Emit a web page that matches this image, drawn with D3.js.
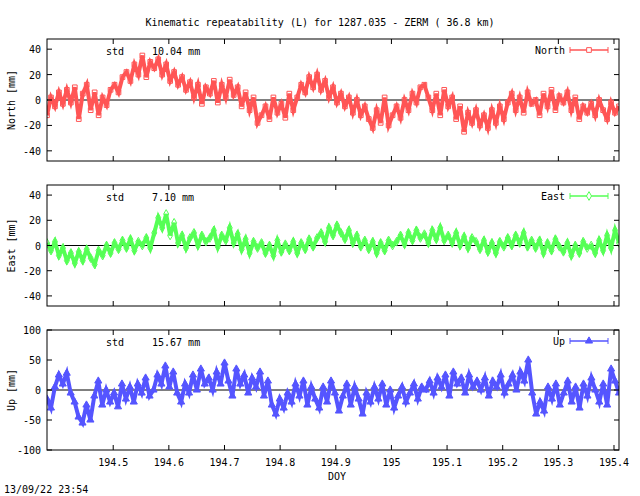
<!DOCTYPE html>
<html><head><meta charset="utf-8">
<script src="https://cdn.jsdelivr.net/npm/d3@7"></script>
<style>body{margin:0;background:#fff}text{font-family:"DejaVu Sans Mono",monospace;font-size:10px;fill:#000}</style>
</head><body>
<svg width="640" height="496"></svg>
<script>
var doyStart = 194.381, doyEnd = 195.409;
var xTicks = [194.5, 194.6, 194.7, 194.8, 194.9, 195, 195.1, 195.2, 195.3, 195.4];

var north = [-12,2,-5,6,-3,8,-2, 10,-15,5,12,-8,6,-12, 2,-4,8,12,6,18,
  22,15,28,20,35,18,30, 25,32,20,28,15,22,12, 18,8,14,2,12,-3,10,
  5,15,-2,12,2,16,4, 10,-5,6,-8,2,-18, -12,-5,-15,2,-10,-3,-14,
  5,-8,2,12,6,18,10, 20,8,15,2,10,-2, 5,-5,2,-10,0,-12,-5,
  -15,-22,-8,-18,2,-20,-12, -5,-14,0,-8,5,-2,10, 12,2,-8,5,-12,8,-5,
  2,-15,-5,-25,-10,-18,-8, -20,-12,-22,-8,-18,-5,-15, -2,5,-8,2,-10,6,-3,
  0,-12,5,-5,8,-8,3, -2,6,-8,2,-15,-5,-10, -3,-12,0,-8,-15,-2,-10,-5];
var east = [2,-4,3,-8,-2,-12,-6, -14,-5,-12,-3,-10,-15,-4, -8,0,-6,2,-3,4,
  -2,5,-4,3,0,6,-2, 10,22,14,25,8,18,2, 8,-2,6,10,0,8,3,
  6,12,-1,8,4,14,2, 9,-3,5,-6,3,-2, 2,-6,0,-8,4,-5,1,
  -4,3,-6,2,-3,5,-1, 6,10,3,14,8,16, 10,5,12,2,8,-1,4,
  -3,3,-6,2,-4,4,0, 3,8,1,10,4,12,6, 9,2,12,5,14,4,8,
  2,10,0,7,-2,6,3, -3,4,-5,2,-6,3,-1, 6,0,8,2,10,-1,4,
  -2,4,-6,2,-4,5,-1, -5,2,-8,0,-6,3,-2, 0,-6,4,-4,8,-2,12,2];
var up = [-15,-30,5,25,10,28,-5, -20,-45,-55,-25,-50,-10,15, -25,0,-20,-5,-28,10,
  -15,5,-20,10,-5,20,-10, 0,25,10,40,5,30,-5, -20,10,-5,25,0,35,10,
  20,0,30,10,45,15,-10, 35,10,25,-5,20,5, 30,-10,15,-25,-40,-15,-30,
  -5,-20,10,-10,15,-25,5, -15,-30,5,-20,15,-5,-35, -10,10,-25,5,-15,-40,-5,
  -20,5,-15,10,-25,0,-30, -10,5,-20,-5,10,-15,5, 0,15,-5,20,5,25,-10,
  30,10,20,-5,25,5,15, 0,20,-10,15,5,25,-5, 10,25,0,30,15,50,-5,
  -40,-20,-35,5,-15,10,-25, -5,15,-20,5,-30,10,-10, 20,0,-20,10,-25,35,15,-5];

var panels = [
  {name: "North", label: "North [mm]", std: "10.04 mm", data: north, color: "#ff5555",
   sym: d3.symbolSquare, fill: false, dom: [-48, 48], ticks: [-40, -20, 0, 20, 40], top: 39, bot: 161},
  {name: "East", label: "East [mm]", std: " 7.10 mm", data: east, color: "#55ff55",
   sym: d3.symbolDiamond, fill: false, dom: [-48, 48], ticks: [-40, -20, 0, 20, 40], top: 185, bot: 306},
  {name: "Up", label: "Up [mm]", std: "15.67 mm", data: up, color: "#5555ff",
   sym: d3.symbolTriangle, fill: true, dom: [-100, 100], ticks: [-100, -50, 0, 50, 100], top: 330, bot: 450}
];

var svg = d3.select("svg");
var left = 47, right = 619;
var x = d3.scaleLinear().domain([doyStart, doyEnd]).range([left, right]);

svg.append("text").attr("x", 320).attr("y", 26).attr("text-anchor", "middle")
  .text("Kinematic repeatability (L) for 1287.035 - ZERM  ( 36.8 km)");

panels.forEach(function(p, pi) {
  var y = d3.scaleLinear().domain(p.dom).range([p.bot, p.top]);
  var g = svg.append("g");
  var n = p.data.length;
  var pts = p.data.map(function(v, i) {
    return [doyStart + (doyEnd - doyStart) * i / (n - 1), v];
  });

  // zero line
  g.append("line").attr("x1", left).attr("x2", right).attr("y1", y(0)).attr("y2", y(0))
    .attr("stroke", "#000");

  var clip = "clip" + pi;
  g.append("clipPath").attr("id", clip).append("rect")
    .attr("x", left).attr("y", p.top).attr("width", right - left).attr("height", p.bot - p.top);
  var dg = g.append("g").attr("clip-path", "url(#" + clip + ")");
  dg.append("path").datum(pts)
    .attr("d", d3.line().x(function(d) { return x(d[0]); }).y(function(d) { return y(d[1]); }))
    .attr("fill", "none").attr("stroke", p.color).attr("stroke-width", 4);
  var sym = d3.symbol().type(p.sym).size(22);
  dg.selectAll("path.pt").data(pts).enter().append("path").attr("class", "pt")
    .attr("transform", function(d) { return "translate(" + x(d[0]) + "," + y(d[1]) + ")"; })
    .attr("d", sym)
    .attr("fill", p.fill ? p.color : "none").attr("stroke", p.color);

  // frame
  g.append("rect").attr("x", left).attr("y", p.top).attr("width", right - left)
    .attr("height", p.bot - p.top).attr("fill", "none").attr("stroke", "#000");

  // y ticks
  p.ticks.forEach(function(t) {
    g.append("line").attr("x1", left).attr("x2", left + 5).attr("y1", y(t)).attr("y2", y(t)).attr("stroke", "#000");
    g.append("line").attr("x1", right - 5).attr("x2", right).attr("y1", y(t)).attr("y2", y(t)).attr("stroke", "#000");
    g.append("text").attr("x", left - 6).attr("y", y(t) + 4).attr("text-anchor", "end").text(t);
  });
  // x ticks
  xTicks.forEach(function(t) {
    g.append("line").attr("x1", x(t)).attr("x2", x(t)).attr("y1", p.bot).attr("y2", p.bot - 5).attr("stroke", "#000");
    g.append("line").attr("x1", x(t)).attr("x2", x(t)).attr("y1", p.top).attr("y2", p.top + 5).attr("stroke", "#000");
    if (pi == 2) g.append("text").attr("x", x(t)).attr("y", p.bot + 16).attr("text-anchor", "middle").text(t);
  });

  g.append("text").attr("transform", "translate(15," + ((p.top + p.bot) / 2) + ") rotate(-90)")
    .attr("text-anchor", "middle").text(p.label);
  g.append("text").attr("x", 106).attr("y", p.top + 16).text("std");
  g.append("text").attr("x", 152).attr("y", p.top + 16).text(p.std);

  // legend
  var ly = p.top + 11;
  g.append("text").attr("x", 565).attr("y", ly + 4).attr("text-anchor", "end").text(p.name);
  g.append("line").attr("x1", 570).attr("x2", 608).attr("y1", ly).attr("y2", ly).attr("stroke", p.color).attr("stroke-width", 1.5);
  [570, 608].forEach(function(cx) {
    g.append("line").attr("x1", cx).attr("x2", cx).attr("y1", ly - 3).attr("y2", ly + 3).attr("stroke", p.color);
  });
  g.append("path").attr("transform", "translate(589," + ly + ")").attr("d", sym)
    .attr("fill", p.fill ? p.color : "#fff").attr("stroke", p.color);
});

svg.append("text").attr("x", 337).attr("y", 480).attr("text-anchor", "middle").text("DOY");
svg.append("text").attr("x", 4).attr("y", 493).text("13/09/22 23:54");
</script>
</body></html>
